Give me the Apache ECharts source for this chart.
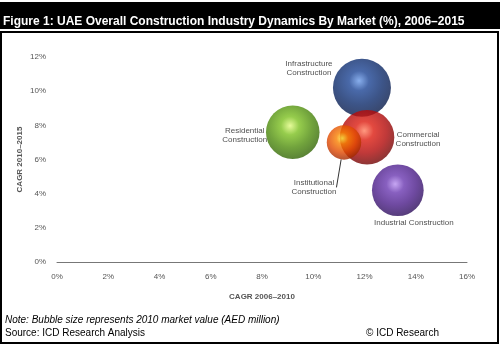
<!DOCTYPE html>
<html><head><meta charset="utf-8">
<script src="https://cdn.jsdelivr.net/npm/echarts@6/dist/echarts.min.js"></script>
<style>html,body{margin:0;padding:0;background:#fff}#c{width:500px;height:345px}</style>
</head><body><div id="c"></div>
<script>
var categories = ['Infrastructure\nConstruction', 'Residential\nConstruction', 'Commercial\nConstruction', 'Institutional\nConstruction', 'Industrial Construction'];
var cagr2006_2010 = [11.9, 9.2, 12.1, 11.2, 13.3];
var cagr2010_2015 = [10.2, 7.6, 7.3, 7.0, 4.2];
var marketValue2010 = [34000, 29000, 30000, 12000, 27000];
var xTicks = ['0%', '2%', '4%', '6%', '8%', '10%', '12%', '14%', '16%'];
var yTicks = ['0%', '2%', '4%', '6%', '8%', '10%', '12%'];

var palette = [
  ['#6a9ae8', '#1c4494', '#0c2a6a', '#061540'],
  ['#e0fa80', '#7cc020', '#4e8c0c', '#2a5a02'],
  ['#ff8060', '#dc1c10', '#b00808', '#600202'],
  ['#fff040', '#f88000', '#e04800', '#902000'],
  ['#b890f0', '#6a38b0', '#4a1c88', '#24084e']
];
var labelOffsets = [[-53, -19], [-48, 3], [51, 2], [-30, 45], [16, 33]];

function grad(p) {
  return new echarts.graphic.RadialGradient(0.45, 0.38, 0.68, [
    {offset: 0, color: p[0]}, {offset: 0.25, color: p[1]}, {offset: 0.6, color: p[2]}, {offset: 1, color: p[3]}
  ]);
}
var k = 58 / Math.sqrt(34000);
var data = categories.map(function (c, i) {
  return {
    name: c,
    value: [cagr2006_2010[i], cagr2010_2015[i], marketValue2010[i]],
    itemStyle: {color: grad(palette[i])},
    labelLine: {show: i === 3, lineStyle: {color: '#333', width: 1}}
  };
});

var chart = echarts.init(document.getElementById('c'));
chart.setOption({
  animation: false,
  backgroundColor: '#fff',
  grid: {left: 57, right: 33, top: 57, bottom: 83},
  xAxis: {
    type: 'value', min: 0, max: 16, interval: 2,
    name: 'CAGR 2006–2010', nameLocation: 'middle', nameGap: 31,
    nameTextStyle: {fontFamily: 'Liberation Sans', fontSize: 8, color: '#555', fontWeight: 'bold'},
    axisLine: {show: true, lineStyle: {color: '#777', width: 1}},
    axisTick: {show: false}, splitLine: {show: false},
    axisLabel: {fontFamily: 'Liberation Sans', fontSize: 8, color: '#555', margin: 11,
      formatter: function (v) { return xTicks[Math.round(v / 2)]; }}
  },
  yAxis: {
    type: 'value', min: 0, max: 12, interval: 2,
    name: 'CAGR 2010–2015', nameLocation: 'middle', nameGap: 33, nameMoveOverlap: false,
    nameTextStyle: {fontFamily: 'Liberation Sans', fontSize: 8, color: '#555', fontWeight: 'bold'},
    axisLine: {show: false}, axisTick: {show: false}, splitLine: {show: false},
    axisLabel: {fontFamily: 'Liberation Sans', fontSize: 8, color: '#555', margin: 11,
      formatter: function (v) { return yTicks[Math.round(v / 2)]; }}
  },
  series: [{
    type: 'scatter',
    data: data,
    symbolSize: function (v) { return k * Math.sqrt(v[2]); },
    label: {
      show: true, position: 'inside', formatter: '{b}',
      fontFamily: 'Liberation Sans', fontSize: 8, color: '#222', lineHeight: 9, align: 'center'
    },
    labelLayout: function (p) {
      var o = labelOffsets[p.dataIndex];
      return {dx: o[0], dy: o[1]};
    }
  }],
  graphic: [
    {type: 'rect', shape: {x: 0, y: 2, width: 500, height: 27}, style: {fill: '#000'}},
    {type: 'text', left: 3, top: 16, style: {text: 'Figure 1: UAE Overall Construction Industry Dynamics By Market (%), 2006–2015',
      fill: '#fff', font: 'bold 12px "Liberation Sans"'}},
    {type: 'rect', shape: {x: 1, y: 32, width: 497, height: 311}, style: {fill: 'none', stroke: '#000', lineWidth: 2}},
    {type: 'text', left: 5, top: 315, style: {text: 'Note: Bubble size represents 2010 market value (AED million)',
      fill: '#000', font: 'italic 10px "Liberation Sans"'}},
    {type: 'text', left: 5, top: 328, style: {text: 'Source: ICD Research Analysis', fill: '#000', font: '10px "Liberation Sans"'}},
    {type: 'text', left: 366, top: 328, style: {text: '© ICD Research', fill: '#000', font: '10px "Liberation Sans"'}}
  ]
});
</script></body></html>
